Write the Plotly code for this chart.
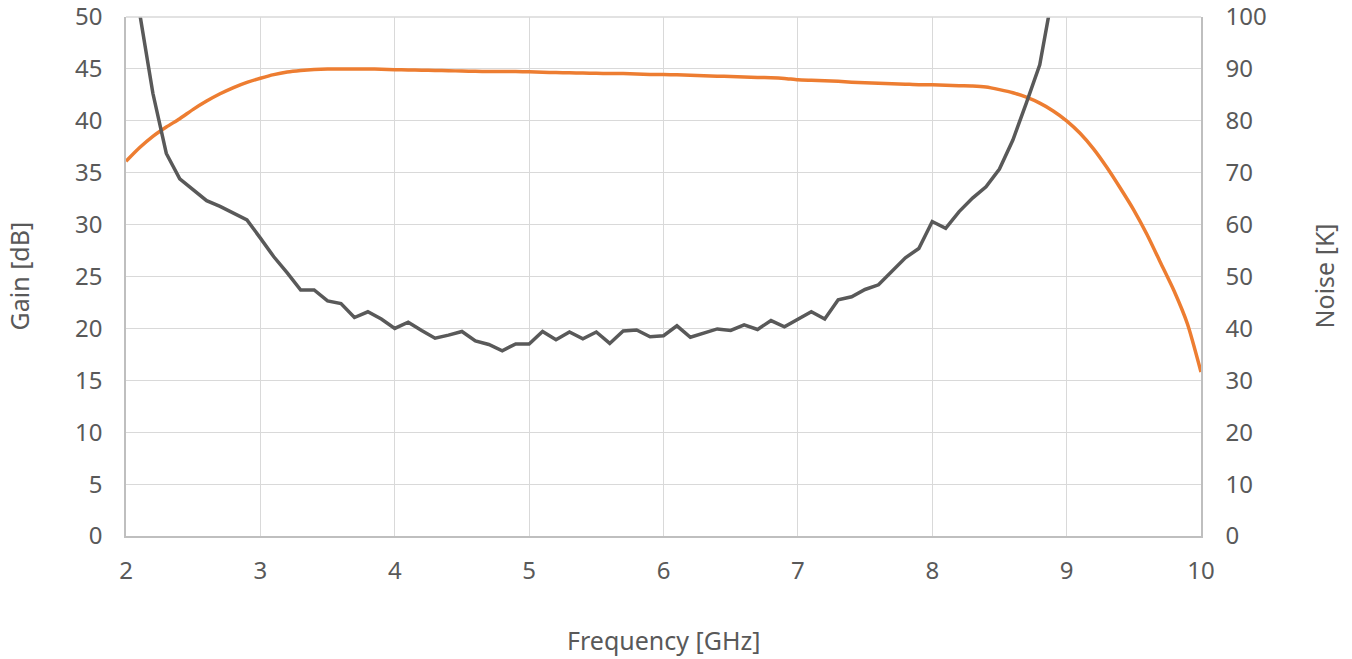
import plotly.graph_objects as go

freq = [round(2.0 + 0.1 * i, 1) for i in range(81)]

gain_db = [36.1, 37.4, 38.5, 39.4, 40.2, 41.1, 41.9, 42.6, 43.2, 43.7,
           44.1, 44.45, 44.7, 44.85, 44.95, 45.0, 45.0, 45.0, 45.0, 44.97,
           44.93, 44.9, 44.88, 44.85, 44.82, 44.8, 44.77, 44.75, 44.75, 44.75,
           44.72, 44.67, 44.65, 44.63, 44.6, 44.57, 44.55, 44.55, 44.52, 44.47,
           44.45, 44.43, 44.38, 44.33, 44.3, 44.27, 44.23, 44.18, 44.15, 44.08,
           43.95, 43.9, 43.85, 43.8, 43.72, 43.67, 43.62, 43.58, 43.53, 43.48,
           43.47, 43.43, 43.38, 43.35, 43.25, 43.0, 42.7, 42.27, 41.7, 40.95,
           40.0, 38.8, 37.3, 35.5, 33.5, 31.4, 29.0, 26.3, 23.6, 20.4,
           15.8]

noise_k = [125, 101, 85.3, 73.7, 68.8, 66.7, 64.6, 63.5, 62.2, 60.9,
           57.4, 53.8, 50.7, 47.4, 47.4, 45.3, 44.8, 42.1, 43.2, 41.8,
           40.0, 41.2, 39.6, 38.1, 38.7, 39.4, 37.6, 36.9, 35.7, 37.0,
           37.0, 39.4, 37.8, 39.3, 38.0, 39.3, 37.1, 39.5, 39.7, 38.4,
           38.6, 40.5, 38.3, 39.1, 39.9, 39.6, 40.7, 39.8, 41.5, 40.3,
           41.8, 43.2, 41.8, 45.5, 46.1, 47.5, 48.4, 51.1, 53.6, 55.4,
           60.6, 59.3, 62.5, 65.1, 67.3, 70.7, 76.3, 83.4, 90.8, 105,
           125]
noise_freq = freq[:len(noise_k)]

x_ticks = [2, 3, 4, 5, 6, 7, 8, 9, 10]
gain_ticks = list(range(0, 55, 5))
noise_ticks = list(range(0, 110, 10))

TXT = "#595959"
GRID = "#d9d9d9"
AXL = "#bfbfbf"
FONT = "Noto Sans"
FS = 24
FT = 25

fig = go.Figure()
fig.add_trace(go.Scatter(x=freq, y=gain_db, mode="lines", name="Gain",
                         line=dict(color="#ED7D31", width=3.5, shape="spline", smoothing=0.6),
                         yaxis="y"))
fig.add_trace(go.Scatter(x=noise_freq, y=noise_k, mode="lines", name="Noise",
                         line=dict(color="#595959", width=3.5),
                         yaxis="y2"))

fig.update_layout(
    width=1352, height=659,
    margin=dict(l=126, r=151, t=17, b=123),
    plot_bgcolor="white", paper_bgcolor="white",
    showlegend=False,
    font=dict(family=FONT, size=FS, color=TXT),
    xaxis=dict(range=[2, 10], tickvals=x_ticks, showgrid=True, gridcolor=GRID, gridwidth=1,
               showline=True, linecolor=AXL, linewidth=1.5, zeroline=False, automargin=False,
               ticks="outside", ticklen=12, tickcolor="rgba(0,0,0,0)",
               ticklabeloverflow="allow",
               tickfont=dict(family=FONT, size=FS, color=TXT)),
    yaxis=dict(range=[0, 50], tickvals=gain_ticks, showgrid=True, gridcolor=GRID, gridwidth=1,
               showline=True, linecolor=AXL, linewidth=1.5, zeroline=False, automargin=False,
               ticks="outside", ticklen=17, tickcolor="rgba(0,0,0,0)",
               ticklabeloverflow="allow",
               tickfont=dict(family=FONT, size=FS, color=TXT)),
    yaxis2=dict(range=[0, 100], tickvals=noise_ticks, overlaying="y", side="right",
                showgrid=False, showline=True, linecolor=AXL, linewidth=1.5, zeroline=False,
                automargin=False,
                ticks="outside", ticklen=18, tickcolor="rgba(0,0,0,0)",
                ticklabeloverflow="allow",
                tickfont=dict(family=FONT, size=FS, color=TXT)),
    shapes=[dict(type="line", xref="paper", yref="paper", x0=0, x1=1, y0=1, y1=1,
                 line=dict(color=GRID, width=1.5), layer="above")],
    annotations=[
        dict(text="Frequency [GHz]", xref="paper", yref="paper", x=0.5, y=0, yshift=-104,
             xanchor="center", yanchor="middle", showarrow=False,
             font=dict(family=FONT, size=FT, color=TXT)),
        dict(text="Gain [dB]", xref="paper", yref="paper", x=0, y=0.5, xshift=-108,
             xanchor="center", yanchor="middle", textangle=-90, showarrow=False,
             font=dict(family=FONT, size=FT, color=TXT)),
        dict(text="Noise [K]", xref="paper", yref="paper", x=1, y=0.5, xshift=122,
             xanchor="center", yanchor="middle", textangle=-90, showarrow=False,
             font=dict(family=FONT, size=FT, color=TXT)),
    ],
)

fig.write_html("out.html", config={"displayModeBar": False},
               post_script="document.body.style.margin='0';document.body.style.padding='0';"
                           "document.body.style.overflow='hidden';")
